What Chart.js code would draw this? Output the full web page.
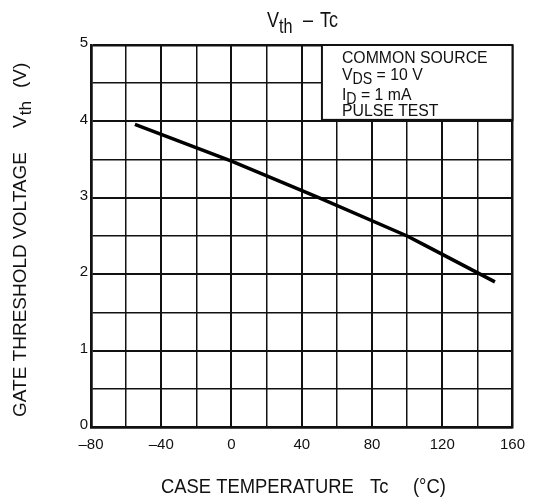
<!DOCTYPE html>
<html>
<head>
<meta charset="UTF-8">
<script src="https://cdn.jsdelivr.net/npm/chart.js@4"></script>
<style>
  html, body { margin: 0; padding: 0; background: #fff; }
</style>
</head>
<body>
<canvas id="chart" width="534" height="499"></canvas>
<script>
// Vth vs case temperature
const caseTemp = [-55, 0, 50, 100, 110, 150];
const vth = [3.96, 3.48, 3.0, 2.5, 2.38, 1.9];

// axis ranges / labelled ticks
const xRange = [-80, 160];
const yRange = [0, 5];
const xLabelStep = 40;

// test conditions shown in the box (text, isSubscript)
const noteLines = [
  [['COMMON SOURCE', 0]],
  [['V', 0], ['DS', 1], [' = 10 V', 0]],
  [['I', 0], ['D', 1], [' = 1 mA', 0]],
  [['PULSE TEST', 0]]
];
const noteBaselines = [18, 34.5, 54.5, 71];

const FONT = '"Liberation Sans", Arial, Helvetica, sans-serif';
const INK = '#111';

function richWidth(ctx, parts, size) {
  let w = 0;
  parts.forEach(([t, sub]) => {
    ctx.font = (sub ? size * 0.9 : size) + 'px ' + FONT;
    w += ctx.measureText(t).width;
  });
  return w;
}

// draws text with subscripts; sx/sy stretch the glyphs
function drawRich(ctx, parts, x, y, size, opts) {
  opts = opts || {};
  ctx.save();
  ctx.translate(x, y);
  if (opts.rotate) ctx.rotate(opts.rotate);
  ctx.scale(opts.sx || 1, opts.sy || 1);
  const w = richWidth(ctx, parts, size);
  let cx = opts.align === 'center' ? -w / 2 : 0;
  ctx.fillStyle = INK;
  ctx.textAlign = 'left';
  ctx.textBaseline = 'alphabetic';
  parts.forEach(([t, sub]) => {
    const s = sub ? size * 0.9 : size;
    ctx.font = s + 'px ' + FONT;
    ctx.fillText(t, cx, sub ? size * 0.28 : 0);
    cx += ctx.measureText(t).width;
  });
  ctx.restore();
}

const annotations = {
  id: 'annotations',
  afterDraw(chart) {
    const { ctx, chartArea, scales } = chart;

    // chart title
    drawRich(ctx, [['V', 0], ['th', 1]], 267, 27, 18, { sy: 1.25 });
    drawRich(ctx, [['\u2013', 0]], 303, 27, 18, { sy: 1.25 });
    drawRich(ctx, [['Tc', 0]], 320, 27, 18, { sy: 1.25 });

    // x axis title
    drawRich(ctx, [['CASE TEMPERATURE', 0]], 161, 493, 18.4, { sy: 1.12 });
    drawRich(ctx, [['Tc', 0]], 370, 493, 18.4, { sy: 1.12 });
    drawRich(ctx, [['(\u00B0C)', 0]], 413, 493, 18.4, { sy: 1.12 });

    // y axis title (rotated, reading upwards)
    const up = -Math.PI / 2;
    drawRich(ctx, [['GATE THRESHOLD VOLTAGE', 0]], 26, 417, 19, { rotate: up });
    drawRich(ctx, [['V', 0], ['th', 1]], 26, 128, 19, { rotate: up });
    drawRich(ctx, [['(V)', 0]], 26, 88, 19, { rotate: up });

    // conditions box
    const bx = scales.x.getPixelForValue(51.5);
    const by = chartArea.top;
    const bw = chartArea.right - bx;
    const bh = scales.y.getPixelForValue(4.02) - by;
    ctx.save();
    ctx.fillStyle = '#fff';
    ctx.fillRect(bx, by, bw, bh);
    ctx.strokeStyle = INK;
    ctx.lineWidth = 2;
    ctx.strokeRect(bx, by, bw, bh);
    ctx.restore();
    noteLines.forEach((parts, i) => {
      drawRich(ctx, parts, bx + 20, by + noteBaselines[i], 15.8, { sy: 1.1 });
    });
  }
};

const points = caseTemp.map((t, i) => ({ x: t, y: vth[i] }));

new Chart(document.getElementById('chart'), {
  type: 'line',
  data: {
    datasets: [{
      data: points,
      borderColor: '#000',
      borderWidth: 3.5,
      pointRadius: 0,
      tension: 0,
      fill: false
    }]
  },
  options: {
    responsive: false,
    animation: false,
    devicePixelRatio: 1,
    layout: { padding: { top: 45, right: 20, left: 0, bottom: 0 } },
    plugins: {
      legend: { display: false },
      tooltip: { enabled: false },
      title: { display: false }
    },
    scales: {
      x: {
        type: 'linear',
        min: xRange[0],
        max: xRange[1],
        afterFit: s => { s.height = 72; },
        ticks: {
          stepSize: 20,
          autoSkip: false,
          maxRotation: 0,
          padding: 9,
          color: INK,
          font: { family: FONT, size: 15 },
          callback: v => v % xLabelStep === 0 ? (v < 0 ? '\u2013' + Math.abs(v) : String(v)) : ''
        },
        grid: {
          color: INK,
          drawTicks: false,
          lineWidth: c => {
            const v = c.tick ? c.tick.value : 0;
            if (v === xRange[0] || v === xRange[1]) return 2.5;
            return v % xLabelStep === 0 ? 2 : 1.5;
          }
        },
        border: { display: true, color: INK, width: 2.5 }
      },
      y: {
        type: 'linear',
        min: yRange[0],
        max: yRange[1],
        afterFit: s => { s.width = 91; },
        ticks: {
          stepSize: 0.5,
          autoSkip: false,
          padding: 3,
          labelOffset: -2,
          color: INK,
          font: { family: FONT, size: 15 },
          callback: v => Number.isInteger(v) ? String(v) : ''
        },
        grid: {
          color: INK,
          drawTicks: false,
          lineWidth: c => {
            const v = c.tick ? c.tick.value : 0;
            if (v === yRange[0] || v === yRange[1]) return 2.5;
            return Number.isInteger(v) ? 2 : 1.5;
          }
        },
        border: { display: true, color: INK, width: 2.5 }
      }
    }
  },
  plugins: [annotations]
});
</script>
</body>
</html>
